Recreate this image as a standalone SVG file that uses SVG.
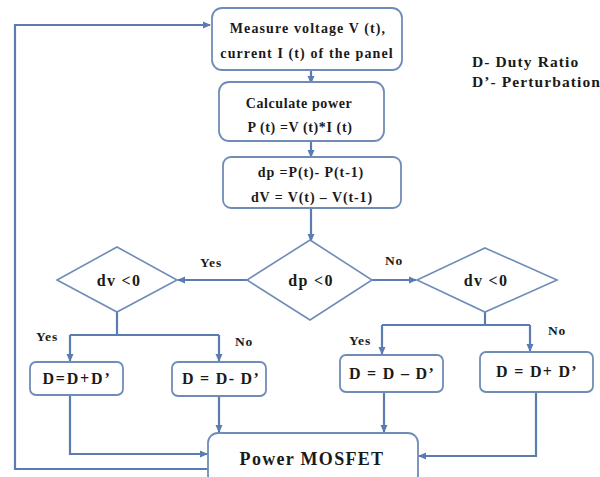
<svg xmlns="http://www.w3.org/2000/svg" width="600" height="477" viewBox="0 0 600 477" font-family="'Liberation Serif', 'Times New Roman', serif">
<defs>
<marker id="ah" markerWidth="8" markerHeight="8" refX="7" refY="4" orient="auto" markerUnits="userSpaceOnUse">
<path d="M0,0.5 L8,4 L0,7.5 Z" fill="#5b7cb0"/>
</marker>
</defs>
<style>
.box{fill:#fff;stroke:#6f8cb8;stroke-width:1.8}
.dia{fill:#fff;stroke:#6f8cb8;stroke-width:1.6}
.ln{fill:none;stroke:#5b7cb0;stroke-width:2.2}
text{font-family:'Liberation Serif','Times New Roman',serif;font-weight:bold;fill:#1a1a1a}
.t{font-size:14px;letter-spacing:0.6px;text-anchor:middle}
.w{letter-spacing:1.1px}
.m{letter-spacing:0.9px}
.d{font-size:16px;letter-spacing:1.3px;text-anchor:middle}
.yn{font-size:13.5px;letter-spacing:0.8px;text-anchor:middle}
.lg{font-size:15.5px;letter-spacing:1.1px}
.big{font-size:18px;letter-spacing:1.3px;text-anchor:middle}
</style>
<rect width="600" height="477" fill="#fff"/>
<g id="connectors">
<path class="ln" d="M311,70 V83" marker-end="url(#ah)"/>
<path class="ln" d="M311,141 V157" marker-end="url(#ah)"/>
<path class="ln" d="M311,208 V241" marker-end="url(#ah)"/>
<path class="ln" d="M247,280 H178" marker-end="url(#ah)"/>
<path class="ln" d="M372,280 H416" marker-end="url(#ah)"/>
<path class="ln" d="M117,312 V335"/>
<path class="ln" d="M70,335 H219"/>
<path class="ln" d="M70,335 V361" marker-end="url(#ah)"/>
<path class="ln" d="M219,335 V361" marker-end="url(#ah)"/>
<path class="ln" d="M485,312 V325"/>
<path class="ln" d="M382,325 H530"/>
<path class="ln" d="M382,325 V354" marker-end="url(#ah)"/>
<path class="ln" d="M530,325 V351" marker-end="url(#ah)"/>
<path class="ln" d="M70,395 V454 H207" marker-end="url(#ah)"/>
<path class="ln" d="M219,396 V432" marker-end="url(#ah)"/>
<path class="ln" d="M384,392 V432" marker-end="url(#ah)"/>
<path class="ln" d="M536,392 V456 H419" marker-end="url(#ah)"/>
<path class="ln" d="M208,469 H15 V25 H210" marker-end="url(#ah)"/>
</g>
<g id="measure">
<rect class="box" x="212" y="8" width="190" height="62" rx="10"/>
<text class="t w" x="308" y="33">Measure voltage V (t),</text>
<text class="t w" x="307" y="58">current  I (t) of the panel</text>
</g>
<g id="calc">
<rect class="box" x="219" y="82" width="165" height="59" rx="10"/>
<text class="t" x="299" y="108">Calculate power</text>
<text class="t" x="300" y="132">P (t) =V (t)*I (t)</text>
</g>
<g id="diff">
<rect class="box" x="223" y="157" width="178" height="51" rx="8"/>
<text class="t m" x="311" y="177">dp =P(t)- P(t-1)</text>
<text class="t m" x="312" y="202">dV = V(t) – V(t-1)</text>
</g>
<g id="dp">
<polygon class="dia" points="310,240 372,280 310,320 247,280"/>
<text class="d" x="311" y="286">dp &lt;0</text>
</g>
<g id="dvleft">
<polygon class="dia" points="117,247 177,280 117,312 57,280"/>
<text class="d" x="119" y="286">dv &lt;0</text>
</g>
<g id="dvright">
<polygon class="dia" points="485,248 557,280 485,312 417,280"/>
<text class="d" x="486" y="286">dv &lt;0</text>
</g>
<g id="labels">
<text class="yn" x="211" y="267">Yes</text>
<text class="yn" x="394" y="265">No</text>
<text class="yn" x="47" y="341">Yes</text>
<text class="yn" x="244" y="346">No</text>
<text class="yn" x="360" y="345">Yes</text>
<text class="yn" x="557" y="335">No</text>
</g>
<g id="inc1">
<rect class="box" x="30" y="362" width="93" height="33" rx="6"/>
<text class="d" x="77" y="384" style="letter-spacing:1.8px">D=D+D’</text>
</g>
<g id="dec1">
<rect class="box" x="172" y="362" width="94" height="34" rx="6"/>
<text class="d" x="221" y="384">D = D- D’</text>
</g>
<g id="dec2">
<rect class="box" x="340" y="355" width="103" height="37" rx="6"/>
<text class="d" x="392" y="379">D = D – D’</text>
</g>
<g id="inc2">
<rect class="box" x="480" y="352" width="113" height="40" rx="6"/>
<text class="d" x="537" y="377">D = D+ D’</text>
</g>
<g id="mosfet">
<rect class="box" x="208" y="433" width="210" height="52" rx="10"/>
<text class="big" x="312" y="465">Power MOSFET</text>
</g>
<g id="legend">
<text class="lg" x="472" y="67">D- Duty Ratio</text>
<text class="lg" x="472" y="87">D’- Perturbation</text>
</g>
</svg>
